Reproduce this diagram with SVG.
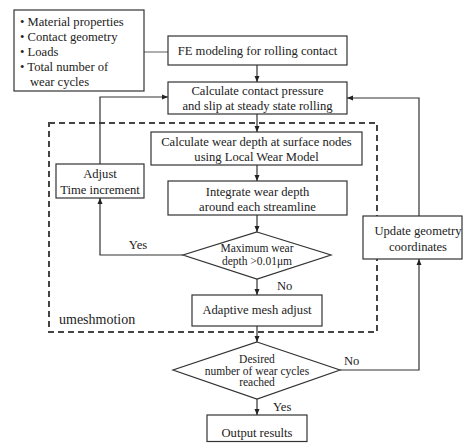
<svg xmlns="http://www.w3.org/2000/svg" width="464" height="443" viewBox="0 0 464 443" font-family="'Liberation Serif', 'DejaVu Serif', 'Times New Roman', serif">
<defs>
<marker id="arr" viewBox="0 0 6 6" refX="6" refY="3" markerWidth="6" markerHeight="6" markerUnits="userSpaceOnUse" orient="auto">
<path d="M0,0.5 L6,3 L0,5.5 z" fill="#222"/>
</marker>
<style>
.box{fill:#fff;stroke:#333;stroke-width:1.2}
text{font-family:'Liberation Serif','DejaVu Serif','Times New Roman',serif;font-size:12.6px;fill:#222}
.c{text-anchor:middle}
.d{font-size:11.5px}
.ln{fill:none;stroke:#333;stroke-width:1.2}
.ar{fill:none;stroke:#333;stroke-width:1.2;marker-end:url(#arr)}
</style>
</defs>
<rect width="464" height="443" fill="#fff"/>
<g id="umeshmotion">
<rect x="49" y="123" width="328" height="209" fill="none" stroke="#444" stroke-width="2" stroke-dasharray="6 4"/>
<text x="59" y="324" style="font-size:14px">umeshmotion</text>
</g>
<g id="connectors">
<line x1="144" y1="52" x2="168" y2="52" stroke="#777" stroke-width="1.2"/>
<line class="ar" x1="257" y1="65" x2="257" y2="82"/>
<line class="ar" x1="257" y1="114" x2="257" y2="132"/>
<line class="ar" x1="257" y1="165" x2="257" y2="181"/>
<line class="ar" x1="257" y1="215" x2="257" y2="232"/>
<line class="ar" x1="257" y1="279" x2="257" y2="295"/>
<line class="ar" x1="257" y1="326" x2="257" y2="342"/>
<line class="ar" x1="257" y1="399" x2="257" y2="415"/>
<polyline class="ar" points="183,255 100,255 100,198"/>
<polyline class="ar" points="100,164 100,97 168,97"/>
<polyline class="ar" points="340,370 419,370 419,259"/>
<polyline class="ar" points="419,216 419,98 347,98"/>
<text x="138" y="249" text-anchor="middle">Yes</text>
<text x="277" y="290">No</text>
<text x="344" y="365">No</text>
<text x="273" y="411">Yes</text>
</g>
<g id="inputs">
<rect class="box" x="14" y="10" width="130" height="81"/>
<text x="20" y="26">• Material properties</text>
<text x="20" y="41">• Contact geometry</text>
<text x="20" y="56">• Loads</text>
<text x="20" y="71">• Total number of</text>
<text x="30" y="86">wear cycles</text>
</g>
<g id="fe-model">
<rect class="box" x="168" y="36" width="179" height="29"/>
<text class="c" x="257.5" y="55">FE modeling for rolling contact</text>
</g>
<g id="calc-contact">
<rect class="box" x="168" y="82" width="179" height="32"/>
<text class="c" x="257.5" y="95">Calculate contact pressure</text>
<text class="c" x="257.5" y="110">and slip at steady state rolling</text>
</g>
<g id="calc-wear">
<rect class="box" x="151" y="132" width="211" height="33"/>
<text class="c" x="256.5" y="146">Calculate wear depth at surface nodes</text>
<text class="c" x="256.5" y="161">using Local Wear Model</text>
</g>
<g id="integrate">
<rect class="box" x="168" y="181" width="179" height="34"/>
<text class="c" x="257.5" y="196">Integrate wear depth</text>
<text class="c" x="257.5" y="211">around each streamline</text>
</g>
<g id="adjust-time">
<rect class="box" x="56" y="164" width="88" height="34"/>
<text class="c" x="100" y="178">Adjust</text>
<text class="c" x="100" y="194">Time increment</text>
</g>
<g id="max-wear">
<polygon class="box" points="257,232 331,255 257,279 183,255"/>
<text class="c d" x="257" y="252">Maximum wear</text>
<text class="c d" x="257" y="264.5">depth &gt;0.01μm</text>
</g>
<g id="adaptive-mesh">
<rect class="box" x="192" y="295" width="130" height="31"/>
<text class="c" x="257" y="314">Adaptive mesh adjust</text>
</g>
<g id="desired-cycles">
<polygon class="box" points="257,342 340,370 257,399 173,370"/>
<text class="c d" x="257" y="363">Desired</text>
<text class="c d" x="257" y="374.5">number of wear cycles</text>
<text class="c d" x="257" y="386">reached</text>
</g>
<g id="update-geometry">
<rect class="box" x="363" y="216" width="99" height="43"/>
<text class="c" x="418" y="235">Update geometry</text>
<text class="c" x="418" y="251">coordinates</text>
</g>
<g id="output">
<rect class="box" x="207" y="415" width="100" height="26.5"/>
<text class="c" x="257" y="437">Output results</text>
</g>
</svg>
